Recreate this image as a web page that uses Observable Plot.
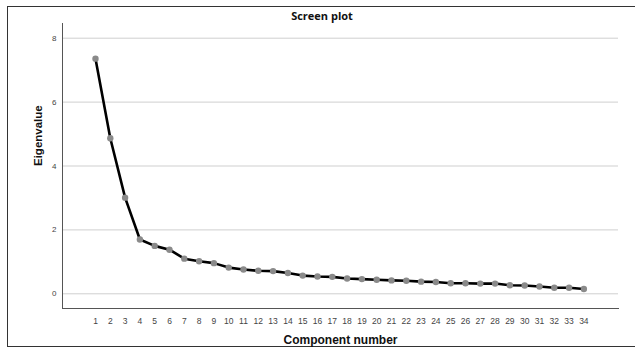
<!DOCTYPE html>
<html>
<head>
<meta charset="utf-8">
<script src="https://cdn.jsdelivr.net/npm/d3@7"></script>
<script src="https://cdn.jsdelivr.net/npm/@observablehq/plot@0.6"></script>
<style>
  html, body { margin: 0; padding: 0; background: #fff; }
  #wrap { position: relative; width: 635px; height: 350px; overflow: hidden; font-family: "Liberation Sans", Arial, sans-serif; }
  #border { position: absolute; left: 7px; top: 6px; width: 640px; height: 341px; border: 1.5px solid #333; box-sizing: border-box; }
  #title { position: absolute; left: 0; width: 644px; top: 8px; text-align: center; font-weight: bold; font-size: 11px; color: #111; font-family: "Open Sans", "Liberation Sans", sans-serif; }
  #chart { position: absolute; left: 0; top: 0; }
</style>
</head>
<body>
<div id="wrap">
  <div id="border"></div>
  <div id="chart"></div>
  <div id="title">Screen plot</div>
</div>
<script>
const components = d3.range(1, 35);
const eigenvalues = [7.36, 4.87, 3.01, 1.70, 1.50, 1.38, 1.10, 1.02, 0.96, 0.82,
  0.76, 0.72, 0.71, 0.65, 0.57, 0.54, 0.53, 0.48, 0.46, 0.44,
  0.42, 0.41, 0.38, 0.37, 0.33, 0.33, 0.32, 0.32, 0.27, 0.26,
  0.23, 0.19, 0.19, 0.15];
const yTicks = [0, 2, 4, 6, 8];
const xLabel = "Component number";
const yLabel = "Eigenvalue";

const data = components.map((c, i) => ({component: c, eigenvalue: eigenvalues[i]}));

const chart = Plot.plot({
  width: 635,
  height: 350,
  marginLeft: 62,
  marginRight: 17,
  marginTop: 23,
  marginBottom: 42,
  style: {fontFamily: "Liberation Sans, Arial, sans-serif", background: "transparent"},
  x: {domain: [-1.23, 36.34], ticks: components, label: null},
  y: {domain: [-0.46, 8.46], ticks: yTicks, label: null},
  marks: [
    Plot.gridY(yTicks, {stroke: "#cfcfcf", strokeOpacity: 1, strokeWidth: 1}),
    Plot.axisY(yTicks, {tickSize: 0, tickPadding: 6, fontSize: 8, fill: "#444", tickFormat: d => d}),
    Plot.axisX(components, {tickSize: 0, tickPadding: 9, fontSize: 8.5, fill: "#444", tickFormat: d => d}),
    Plot.frame({anchor: "left", stroke: "#555"}),
    Plot.frame({anchor: "bottom", stroke: "#555"}),
    Plot.line(data, {x: "component", y: "eigenvalue", stroke: "#000", strokeWidth: 2.6}),
    Plot.dot(data, {x: "component", y: "eigenvalue", r: 3.2, fill: "#8a8a8a", stroke: "none"}),
    Plot.text([xLabel], {frameAnchor: "bottom", dy: 35, fontSize: 12, fontWeight: "bold", fill: "#111"}),
    Plot.text([yLabel], {frameAnchor: "left", dx: -24, rotate: -90, fontSize: 11.5, fontWeight: "bold", fill: "#111"})
  ]
});
document.getElementById("chart").appendChild(chart);
</script>
</body>
</html>
